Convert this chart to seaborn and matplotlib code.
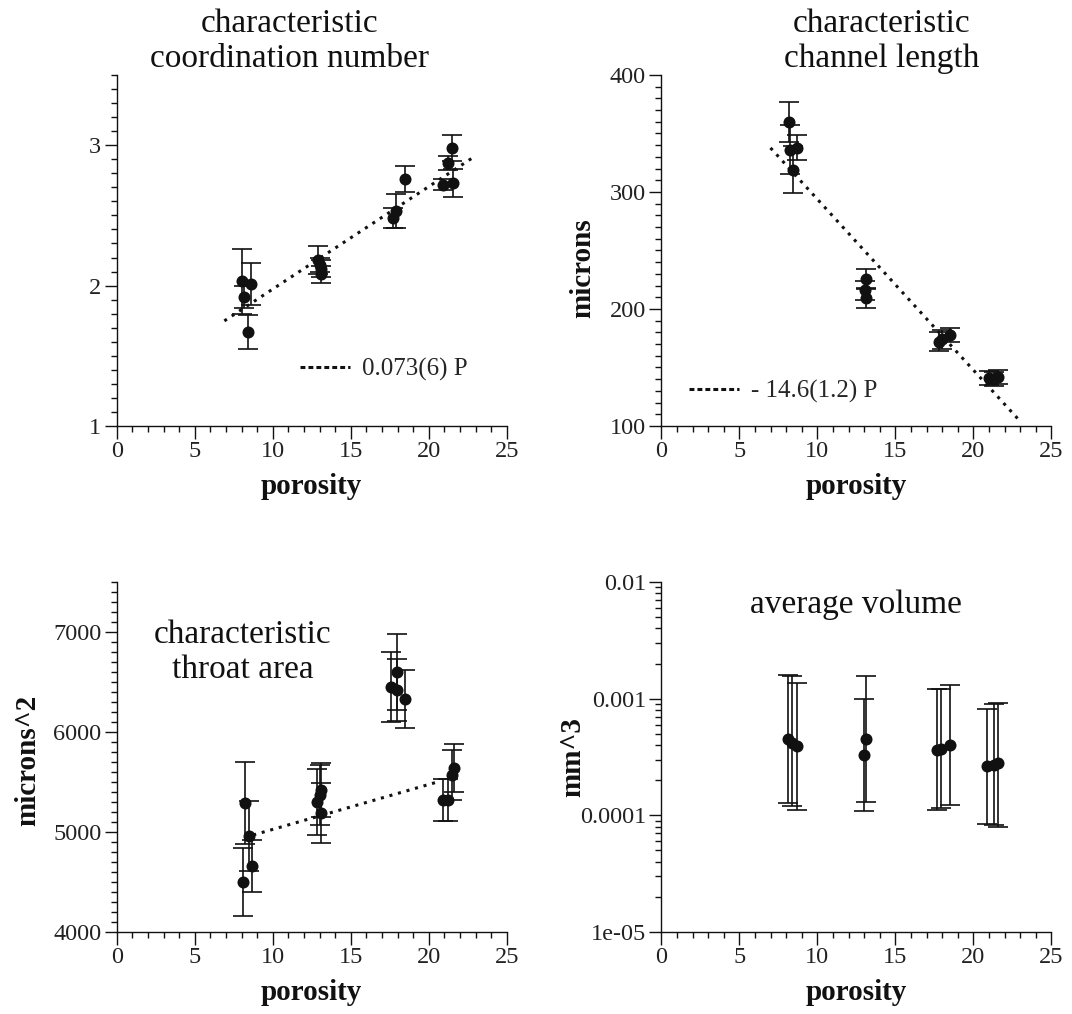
import numpy as np
import matplotlib
matplotlib.use("Agg")
import matplotlib.pyplot as plt
from matplotlib.lines import Line2D
import seaborn as sns
from matplotlib.ticker import MultipleLocator, LogLocator, NullFormatter, FixedLocator, FixedFormatter

# ---------------- data ----------------
coord_x = [8.0, 8.15, 8.4, 8.6, 12.9, 13.1, 13.1, 13.0, 17.7, 17.9, 18.45, 20.9, 21.55, 21.25, 21.5]
coord_y = [2.03, 1.92, 1.67, 2.01, 2.18, 2.12, 2.08, 2.15, 2.48, 2.53, 2.76, 2.72, 2.73, 2.87, 2.98]
coord_err = [0.23, 0.08, 0.12, 0.15, 0.10, 0.06, 0.06, 0.05, 0.07, 0.12, 0.09, 0.04, 0.10, 0.05, 0.09]
coord_fit = (1.245, 0.073)          # intercept, slope
coord_fit_range = (6.9, 22.8)
coord_fit_label = "0.073(6) P"

length_x = [8.2, 8.25, 8.45, 8.7, 13.1, 13.05, 13.1, 17.8, 18.0, 18.5, 21.0, 21.3, 21.6]
length_y = [360, 336, 319, 338, 226, 216, 209, 172, 174, 178, 141, 140, 142]
length_err = [17, 21, 20, 11, 8, 8, 8, 8, 8, 6, 6, 6, 6]
length_fit = (439.9, -14.6)
length_fit_range = (7.0, 22.9)
length_fit_label = "- 14.6(1.2) P"

area_x = [8.1, 8.2, 8.45, 8.65, 12.85, 13.1, 13.0, 13.1, 17.6, 17.95, 17.95, 18.5, 20.9, 21.25, 21.6, 21.5]
area_y = [4500, 5290, 4960, 4660, 5300, 5420, 5370, 5190, 6450, 6600, 6420, 6330, 5320, 5320, 5640, 5570]
area_err = [340, 410, 350, 260, 330, 270, 300, 300, 350, 380, 310, 290, 210, 210, 240, 250]
area_fit = (4577, 44.9)
area_fit_range = (8.75, 20.6)

volume_x = [8.1, 8.4, 8.7, 13.1, 13.0, 17.7, 17.9, 18.5, 20.9, 21.3, 21.6]
volume_y = [4.5e-4, 4.2e-4, 3.9e-4, 4.5e-4, 3.3e-4, 3.65e-4, 3.7e-4, 4.0e-4, 2.65e-4, 2.7e-4, 2.8e-4]
volume_lo = [1.27e-4, 1.2e-4, 1.12e-4, 1.3e-4, 1.1e-4, 1.12e-4, 1.15e-4, 1.22e-4, 8.5e-5, 8.3e-5, 8.0e-5]
volume_hi = [1.58e-3, 1.55e-3, 1.35e-3, 1.55e-3, 1.0e-3, 1.22e-3, 1.2e-3, 1.32e-3, 8.2e-4, 9.0e-4, 9.2e-4]
volume_ticks = [1e-5, 1e-4, 1e-3, 1e-2]
volume_ticklabels = ["1e-05", "0.0001", "0.001", "0.01"]

titles = ["characteristic\ncoordination number", "characteristic\nchannel length",
          "characteristic\nthroat area", "average volume"]
ylabels = ["", "microns", "microns^2", "mm^3"]
xlabel = "porosity"

# ---------------- style ----------------
sns.set_theme(style="ticks")
plt.rcParams["font.family"] = ["Liberation Serif", "DejaVu Serif"]
plt.rcParams["axes.unicode_minus"] = False

W, H = 1072, 1014
fig = plt.figure(figsize=(W / 100, H / 100), dpi=100)
fig.patch.set_facecolor("white")


def add_ax(x0, x1, y_top, y_bot):
    return fig.add_axes([x0 / W, 1 - y_bot / H, (x1 - x0) / W, (y_bot - y_top) / H])


ax1 = add_ax(116.7, 506.7, 75, 426)
ax2 = add_ax(661.3, 1051.3, 75, 426)
ax3 = add_ax(116.7, 506.7, 582, 932)
ax4 = add_ax(661.3, 1051.3, 582, 932)

INK = "#111111"
DOT = (0, (1, 1.9))
DASH = (0, (1.6, 1.0))


def style(ax):
    sns.despine(ax=ax)
    ax.set_facecolor("white")
    ax.set_xlim(0, 25)
    ax.xaxis.set_major_locator(MultipleLocator(5))
    ax.xaxis.set_minor_locator(MultipleLocator(1))
    ax.tick_params(which="major", direction="out", length=9, width=1, color=INK, pad=2)
    ax.tick_params(which="minor", direction="out", length=4, width=1, color=INK)
    ax.tick_params(axis="both", labelsize=17.5, labelcolor="#222222")
    for s in ["left", "bottom"]:
        ax.spines[s].set_linewidth(1)
        ax.spines[s].set_color(INK)
    ax.set_xlabel(xlabel, fontsize=21, fontweight="bold", labelpad=8, color=INK)


def draw(ax, x, y, yerr):
    ax.errorbar(x, y, yerr=yerr, fmt="none", ecolor=INK, elinewidth=1.2,
                capsize=7, capthick=1.2, zorder=2)
    sns.scatterplot(x=x, y=y, ax=ax, color=INK, s=75, linewidth=0, zorder=3, legend=False)


def fit(ax, params, rng):
    fx = np.array(rng)
    fy = params[0] + params[1] * fx
    sns.lineplot(x=fx, y=fy, ax=ax, color=INK, linewidth=2.2, linestyle=DOT,
                 legend=False, zorder=1)


def fit_key(ax, label, anchor):
    h = Line2D([], [], color=INK, linewidth=2.2, linestyle=DASH)
    ax.legend([h], [label], frameon=False, loc="center left", bbox_to_anchor=anchor,
              fontsize=18, handlelength=2.0, handletextpad=0.5, borderpad=0,
              borderaxespad=0)


# panel 1
draw(ax1, coord_x, coord_y, coord_err)
fit(ax1, coord_fit, coord_fit_range)
style(ax1)
ax1.set_ylim(1, 3.5)
ax1.yaxis.set_major_locator(MultipleLocator(1))
ax1.yaxis.set_minor_locator(MultipleLocator(0.1))
fit_key(ax1, coord_fit_label, (0.47, 0.16))

# panel 2
draw(ax2, length_x, length_y, length_err)
fit(ax2, length_fit, length_fit_range)
style(ax2)
ax2.set_ylim(100, 400)
ax2.yaxis.set_major_locator(MultipleLocator(100))
ax2.yaxis.set_minor_locator(MultipleLocator(10))
fit_key(ax2, length_fit_label, (0.07, 0.097))

# panel 3
draw(ax3, area_x, area_y, area_err)
fit(ax3, area_fit, area_fit_range)
style(ax3)
ax3.set_ylim(4000, 7500)
ax3.yaxis.set_major_locator(MultipleLocator(1000))
ax3.yaxis.set_minor_locator(MultipleLocator(100))

# panel 4
vy = np.array(volume_y)
verr = [vy - np.array(volume_lo), np.array(volume_hi) - vy]
ax4.set_yscale("log")
draw(ax4, volume_x, volume_y, verr)
style(ax4)
ax4.set_ylim(1e-5, 1e-2)
ax4.yaxis.set_major_locator(FixedLocator(volume_ticks))
ax4.yaxis.set_major_formatter(FixedFormatter(volume_ticklabels))
ax4.yaxis.set_minor_locator(LogLocator(base=10, subs=np.arange(2, 10)))
ax4.yaxis.set_minor_formatter(NullFormatter())

# y labels
for ax, lab, (lx, ly) in zip([ax2, ax3, ax4], ylabels[1:],
                             [(-0.167, 0.45), (-0.194, 0.49), (-0.193, 0.5)]):
    ax.set_ylabel(lab, fontsize=21, fontweight="bold", color=INK)
    ax.yaxis.set_label_coords(lx, ly)

# titles
title_pos = [(290, 41), (882, 41), (243, 652), (856, 605)]
for t, (tx, ty) in zip(titles, title_pos):
    fig.text(tx / W, 1 - ty / H, t, ha="center", va="center", fontsize=24,
             linespacing=1.2, color=INK)

fig.savefig("out.png", dpi=100, facecolor="white")
